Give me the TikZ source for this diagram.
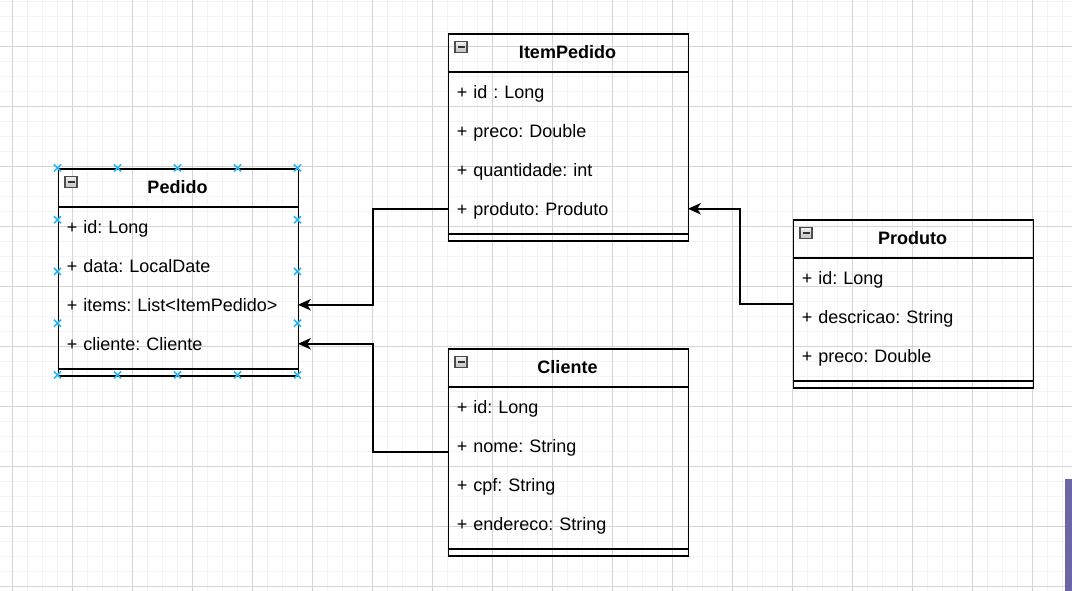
\documentclass[tikz,border=0pt]{standalone}
\usepackage{fontspec}
\setmainfont{Liberation Sans}
\usetikzlibrary{arrows.meta}
\definecolor{gridmajor}{RGB}{212,212,212}
\definecolor{gridminor}{RGB}{243,243,243}
\definecolor{handlecol}{RGB}{41,182,242}
\definecolor{sidebar}{RGB}{106,102,168}
\frenchspacing
\tikzset{
  classbox/.style={draw=black, line width=1.35pt, minimum width=180pt, anchor=north west, inner sep=0pt},
  clsline/.style={draw=black, line width=1.35pt},
  titletext/.style={font=\fontsize{13.5pt}{16pt}\selectfont\bfseries, inner sep=0pt, text height=9.7pt, text depth=0pt},
  attr/.style={anchor=north west, font=\fontsize{13.5pt}{16pt}\selectfont, minimum width=180pt, text width=166.5pt, inner xsep=6.75pt, inner ysep=0pt, minimum height=29.25pt, text height=9.7pt, text depth=0pt, align=left},
  conn/.style={draw=black, line width=1.35pt, -{Stealth[length=9.5pt,width=8.5pt,inset=2.5pt]}},
  handle/.style={draw=handlecol, line width=1.1pt},
  iconbox/.style={draw=gray!60!black, line width=0.8pt, top color=gray!10, bottom color=gray!50},
  iconbar/.style={draw=black!80, line width=1.5pt}
}
\newcommand\hxmark[2]{\draw[handle] (#1-3.5,#2-3.5) -- (#1+3.5,#2+3.5) (#1-3.5,#2+3.5) -- (#1+3.5,#2-3.5);}
\newcommand\clicon[2]{\draw[iconbox] (#1,#2) rectangle (#1+12,#2+11);
  \draw[iconbar] (#1+2.5,#2+5.5) -- (#1+9.5,#2+5.5);}
\begin{document}
\begin{tikzpicture}[x=0.75pt,y=-0.75pt]
\useasboundingbox (0,0) rectangle (1072,591);
\fill[white] (0,0) rectangle (1072,591);
% grid
\foreach \x in {12,27,...,1062} \draw[gridminor, line width=0.75pt] (\x,0) -- (\x,591);
\foreach \y in {2,17,...,587} \draw[gridminor, line width=0.75pt] (0,\y) -- (1072,\y);
\foreach \x in {12,72,...,1032} \draw[gridmajor, line width=0.75pt] (\x,0) -- (\x,591);
\foreach \y in {47,107,...,587} \draw[gridmajor, line width=0.75pt] (0,\y) -- (1072,\y);
\fill[sidebar] (1065,479) rectangle (1072,591);

% ---------- Pedido ----------
\node[classbox, minimum height=155.25pt] (ped) at (57.5,168) {};
\draw[clsline] (57.5,207) -- (297.5,207);
\draw[clsline] (57.5,369) -- (297.5,369);
\clicon{65}{176.5}
\node[titletext] (ped-title) at (177.5,187.5) {Pedido};
\node[attr] (ped-id) at (57.5,207) {+ id: Long};
\node[attr] (ped-data) at (57.5,246) {+ data: LocalDate};
\node[attr] (ped-items) at (57.5,285) {+ items: List<ItemPedido>};
\node[attr] (ped-cliente) at (57.5,324) {+ cliente: Cliente};

% ---------- ItemPedido ----------
\node[classbox, minimum height=155.25pt] (ip) at (447.5,33) {};
\draw[clsline] (447.5,72) -- (687.5,72);
\draw[clsline] (447.5,234) -- (687.5,234);
\clicon{455}{41.5}
\node[titletext] (ip-title) at (567.5,52.5) {ItemPedido};
\node[attr] (ip-id) at (447.5,72) {+ id : Long};
\node[attr] (ip-preco) at (447.5,111) {+ preco: Double};
\node[attr] (ip-qtd) at (447.5,150) {+ quantidade: int};
\node[attr] (ip-produto) at (447.5,189) {+ produto: Produto};

% ---------- Cliente ----------
\node[classbox, minimum height=155.25pt] (cli) at (447.5,348) {};
\draw[clsline] (447.5,387) -- (687.5,387);
\draw[clsline] (447.5,549) -- (687.5,549);
\clicon{455}{356.5}
\node[titletext] (cli-title) at (567.5,367.5) {Cliente};
\node[attr] (cli-id) at (447.5,387) {+ id: Long};
\node[attr] (cli-nome) at (447.5,426) {+ nome: String};
\node[attr] (cli-cpf) at (447.5,465) {+ cpf: String};
\node[attr] (cli-end) at (447.5,504) {+ endereco: String};

% ---------- Produto ----------
\node[classbox, minimum height=126pt] (prod) at (792.5,219) {};
\draw[clsline] (792.5,258) -- (1032.5,258);
\draw[clsline] (792.5,381) -- (1032.5,381);
\clicon{800}{227.5}
\node[titletext] (prod-title) at (912.5,238.5) {Produto};
\node[attr] (prod-id) at (792.5,258) {+ id: Long};
\node[attr] (prod-desc) at (792.5,297) {+ descricao: String};
\node[attr] (prod-preco) at (792.5,336) {+ preco: Double};

% ---------- connectors ----------
\draw[conn] (ip-produto.west) -- ++(-74.5,0) |- (ped-items.east);
\draw[conn] (cli.west) -- ++(-74.5,0) |- (ped-cliente.east);
\draw[conn] (prod.west) -- ++(-52.5,0) |- (ip-produto.east);

% ---------- selection handles on Pedido ----------
\foreach \x in {57.5,117.5,177.5,237.5,297.5} {
  \hxmark{\x}{168}
  \hxmark{\x}{375}
}
\foreach \y in {219.75,271.5,323.25} {
  \hxmark{57.5}{\y}
  \hxmark{297.5}{\y}
}
\end{tikzpicture}
\end{document}
